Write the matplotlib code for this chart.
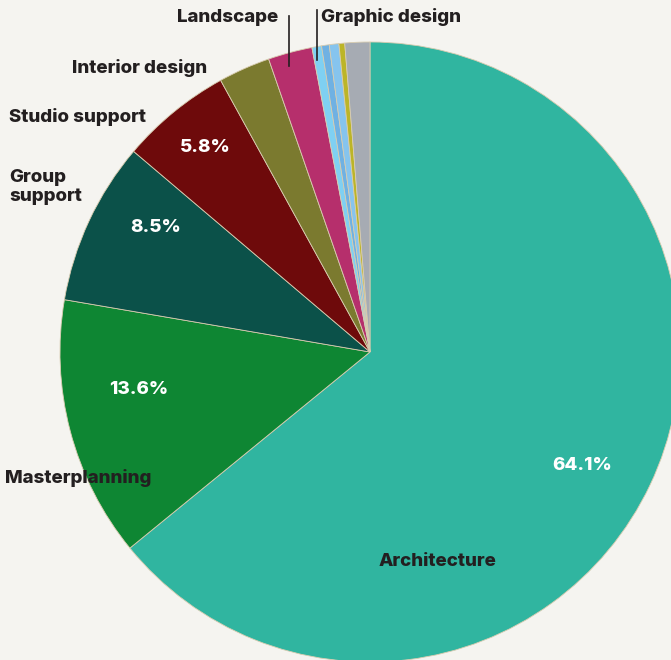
import matplotlib.pyplot as plt

plt.rcParams['font.family'] = ['Inter', 'DejaVu Sans']

sectors = ['Architecture', 'Masterplanning', 'Group support', 'Studio support',
           'Interior design', 'Landscape', 'Other 1', 'Other 2', 'Other 3',
           'Other 4', 'Graphic design']
shares = [64.1, 13.6, 8.5, 5.8, 2.7, 2.3, 0.5, 0.4, 0.5, 0.3, 1.3]
colors = ['#30b5a0', '#0e8633', '#0b5149', '#6e0a0b', '#7b7a2f', '#b62f6c',
          '#7fd0f2', '#6fb1e3', '#86c4ee', '#bcb528', '#a6abb3']
shown = {'Architecture': '64.1%', 'Masterplanning': '13.6%',
         'Group support': '8.5%', 'Studio support': '5.8%'}

bg = '#f5f4f0'
fig = plt.figure(figsize=(6.71, 6.60), dpi=100, facecolor=bg)
ax = fig.add_axes([0, 0, 1, 1])
ax.set_facecolor(bg)

cx, cy, r = 370, 352, 310
# y axis is inverted, so counterclock=True draws clockwise on screen
wedges, _ = ax.pie(shares, colors=colors, startangle=-90, counterclock=True,
                   center=(cx, cy), radius=r, frame=True,
                   wedgeprops=dict(edgecolor='#d8ccb0', linewidth=0.6))
ax.set_xlim(0, 671)
ax.set_ylim(660, 0)
ax.set_aspect('equal')
ax.axis('off')

lab = dict(fontsize=13.5, fontweight='heavy', color='#231f20', va='center')
pct = dict(fontsize=13.5, fontweight='heavy', color='white', va='center')

ax.text(379, 561, 'Architecture', ha='left', **lab)
ax.text(5, 478, 'Masterplanning', ha='left', **lab)
ax.text(9, 187, 'Group\nsupport', ha='left', linespacing=1.15, **lab)
ax.text(9, 117, 'Studio support', ha='left', **lab)
ax.text(72, 68, 'Interior design', ha='left', **lab)
ax.text(177, 17, 'Landscape', ha='left', **lab)
ax.text(321, 17, 'Graphic design', ha='left', **lab)

ax.text(552, 466, shown['Architecture'], ha='left', **pct)
ax.text(109, 389, shown['Masterplanning'], ha='left', **pct)
ax.text(130, 228, shown['Group support'], ha='left', **pct)
ax.text(180, 147, shown['Studio support'], ha='left', **pct)

# leader lines for the thin slices
ax.plot([289, 289], [16, 66], color='#231f20', lw=1.2)
ax.plot([317, 317], [10, 60], color='#231f20', lw=1.2)

fig.savefig('out.png', dpi=100, facecolor=bg)
